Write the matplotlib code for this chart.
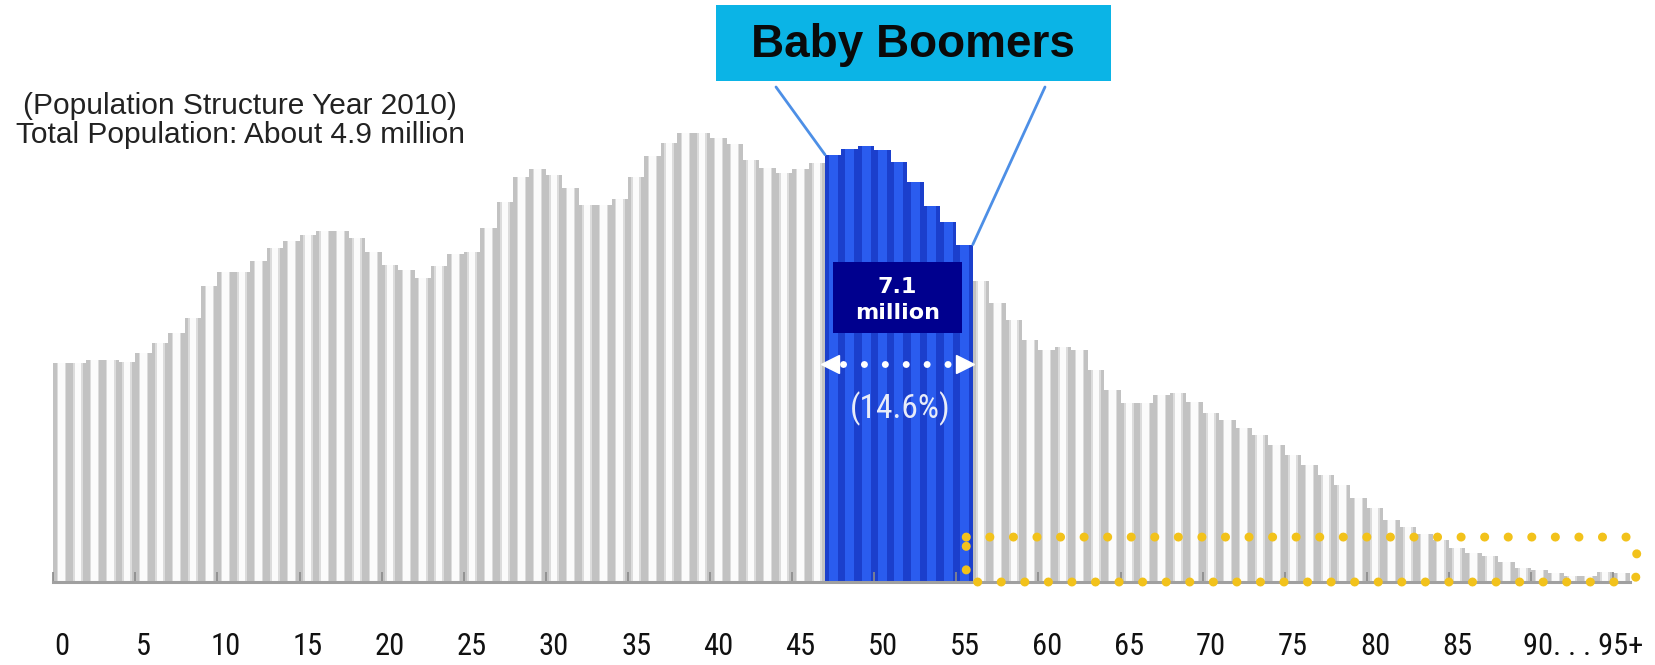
import matplotlib
matplotlib.use("Agg")
import matplotlib.pyplot as plt
from matplotlib import font_manager
from matplotlib.patches import Rectangle

# population by single year of age, 2010 (thousand persons), last one is 95+
ages = list(range(96))
population = [
    429, 429, 435, 435, 431, 448, 468, 487, 517, 579,
    608, 608, 628, 654, 667, 680, 687, 687, 674, 647,
    621, 612, 595, 618, 643, 647, 693, 745, 794, 809,
    798, 772, 739, 739, 750, 794, 834, 860, 879, 879,
    870, 857, 827, 811, 801, 808, 821, 837, 849, 855,
    847, 823, 784, 737, 706, 661, 589, 546, 514, 474,
    455, 461, 455, 416, 376, 350, 350, 367, 371, 353,
    331, 318, 301, 288, 269, 249, 229, 210, 190, 164,
    144, 122, 108, 95, 82, 66, 56, 50, 40, 27,
    24, 17, 12, 12, 20, 17,
]
boomer_first, boomer_last = 47, 55
tick_ages = [0, 5, 10, 15, 20, 25, 30, 35, 40, 45, 50, 55, 60, 65, 70, 75, 80, 85, 92.7]
tick_labels = ['0', '5', '10', '15', '20', '25', '30', '35', '40', '45', '50',
               '55', '60', '65', '70', '75', '80', '85', '90. . . 95+']

available = {f.name for f in font_manager.fontManager.ttflist}
narrow = 'DejaVu Sans'
for name in ['Liberation Sans Narrow', 'DejaVu Sans Condensed', 'Roboto Condensed']:
    if name in available:
        narrow = name
        break

fig = plt.figure(figsize=(16.56, 6.65), dpi=100)
ax = fig.add_axes([53.3 / 1656, 83 / 665, 1576.3 / 1656, 582 / 665])

gray_x = [a for a in ages if a < boomer_first or a > boomer_last]
gray_v = [population[a] for a in gray_x]
blue_x = [a for a in ages if boomer_first <= a <= boomer_last]
blue_v = [population[a] for a in blue_x]

ax.bar(gray_x, gray_v, width=1.0, color='#c2c2c2', linewidth=0)
ax.bar(gray_x, gray_v, width=0.58, color='#dcdcdc', linewidth=0)
ax.bar(gray_x, gray_v, width=0.4, color='#fbfbfb', linewidth=0)
ax.bar(blue_x, blue_v, width=1.0, color='#1b3fcc', linewidth=0)
ax.bar(blue_x, blue_v, width=0.55, color='#2a5cef', linewidth=0)

ax.set_xlim(-0.5, 95.5)
ax.set_ylim(0, 1140)
for s in ['top', 'left', 'right']:
    ax.spines[s].set_visible(False)
ax.spines['bottom'].set_color('#a0a0a0')
ax.spines['bottom'].set_linewidth(2.2)
ax.set_yticks([])
ax.set_xticks(tick_ages)
ax.set_xticklabels(tick_labels, fontfamily=narrow, fontsize=22, color='#111111')
ax.tick_params(axis='x', which='major', length=0, pad=36)
ax.set_xticks([a - 0.5 for a in range(0, 96, 5)], minor=True)
ax.tick_params(axis='x', which='minor', direction='in', length=7, width=1.2, color='#8a8a8a')

# baby boomer headline box and leader lines
fig.patches.append(Rectangle((716 / 1656, 1 - 81 / 665), 395 / 1656, 76 / 665,
                             transform=fig.transFigure, facecolor='#0bb4e6', edgecolor='none'))
fig.text(913 / 1656, 1 - 45 / 665, 'Baby Boomers', ha='center', va='center',
         fontsize=33, fontweight='bold', family='Liberation Sans', color='#0a0a0a')
line_kw = dict(arrowstyle='-', color='#4d8fe6', lw=2, shrinkA=0, shrinkB=0)
ax.annotate('', xy=(boomer_first - 0.5, population[boomer_first]), xycoords='data',
            xytext=(776 / 1656, 1 - 87 / 665), textcoords='figure fraction', arrowprops=line_kw)
ax.annotate('', xy=(boomer_last + 0.5, population[boomer_last]), xycoords='data',
            xytext=(1045 / 1656, 1 - 87 / 665), textcoords='figure fraction', arrowprops=line_kw)

# 7.1 million label
ax.add_patch(Rectangle((46.97, 488), 7.86, 139, facecolor='#00008e', edgecolor='none', zorder=4))
ax.text(50.9, 578, '7.1', ha='center', va='center', color='white', fontsize=16,
        fontweight='bold', zorder=5)
ax.text(50.9, 527, 'million', ha='center', va='center', color='white', fontsize=16,
        fontweight='bold', zorder=5)

# span arrow and share
ax.plot([47.6, 54.4], [427, 427], color='white', lw=5, linestyle=(0, (0.01, 3.0)),
        dash_capstyle='round', zorder=5)
ax.plot([46.8], [427], marker='<', color='white', ms=13, zorder=5)
ax.plot([55.0], [427], marker='>', color='white', ms=13, zorder=5)
ax.text(51.05, 340, '(14.6%)', ha='center', va='center', color='#e8ecf8',
        fontsize=24, family=narrow, zorder=5)

# elderly dotted frame
frame_x = [55.1, 95.5, 95.9, 95.95, 95.9, 95.5, 55.1, 55.1]
frame_y = [88, 88, 78, 44, 10, 0, 0, 88]
ax.plot(frame_x, frame_y, color='#f2c21b', lw=6.5, linestyle=(0, (0.01, 2.6)),
        dash_capstyle='round', clip_on=False, zorder=6)

fig.text(240 / 1656, 1 - 106 / 665, '(Population Structure Year 2010)', ha='center',
         va='center', fontsize=21.5, family='Liberation Sans', color='#222222')
fig.text(241 / 1656, 1 - 135 / 665, 'Total Population: About 4.9 million', ha='center',
         va='center', fontsize=21.5, family='Liberation Sans', color='#222222')

fig.savefig('out.png', dpi=100)
